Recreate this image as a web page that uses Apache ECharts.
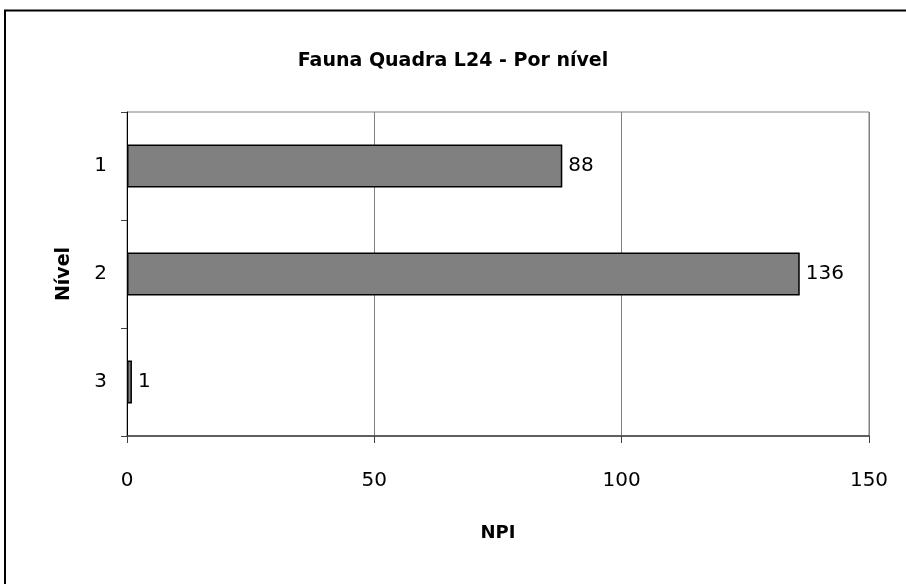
<!DOCTYPE html>
<html>
<head>
<meta charset="utf-8">
<script src="https://cdn.jsdelivr.net/npm/echarts@6/dist/echarts.min.js"></script>
<style>html,body{margin:0;padding:0;background:#fff;}#c{width:906px;height:584px;}</style>
</head>
<body>
<div id="c"></div>
<script>
const titleText = 'Fauna Quadra L24 - Por nível';
const categories = ['1', '2', '3'];
const values = [88, 136, 1];
const xTicks = [0, 50, 100, 150];
const xAxisName = 'NPI';
const yAxisName = 'Nível';

const chart = echarts.init(document.getElementById('c'));
chart.setOption({
  animation: false,
  backgroundColor: '#fff',
  title: {
    text: titleText,
    left: 'center',
    top: 47,
    textStyle: { fontFamily: 'DejaVu Sans', fontWeight: 'bold', fontSize: 19, color: '#000' }
  },
  graphic: [{
    type: 'rect',
    shape: { x: 5, y: 10.5, width: 1000, height: 1000 },
    style: { fill: 'none', stroke: '#000', lineWidth: 2 }
  }],
  grid: {
    left: 127, right: 37, top: 112, bottom: 148,
    show: true, borderColor: '#808080', borderWidth: 1
  },
  xAxis: {
    type: 'value',
    min: xTicks[0], max: xTicks[xTicks.length - 1], interval: 50,
    name: xAxisName,
    nameLocation: 'middle',
    nameGap: 88,
    nameTextStyle: { fontFamily: 'DejaVu Sans', fontWeight: 'bold', fontSize: 18, color: '#000' },
    axisLine: { show: true, lineStyle: { color: '#404040', width: 1.5 } },
    axisTick: { show: true, length: 7, lineStyle: { color: '#404040' } },
    axisLabel: { margin: 35, fontFamily: 'DejaVu Sans', fontSize: 20, color: '#000' },
    splitLine: { show: true, lineStyle: { color: '#808080', width: 1 } }
  },
  yAxis: {
    type: 'category',
    data: categories,
    inverse: true,
    name: yAxisName,
    nameLocation: 'middle',
    nameGap: 53,
    nameRotate: 90,
    nameTextStyle: { fontFamily: 'DejaVu Sans', fontWeight: 'bold', fontSize: 19, color: '#000' },
    axisLine: { show: true, lineStyle: { color: '#000', width: 1 } },
    axisTick: { show: true, length: 6, inside: false, alignWithLabel: false, lineStyle: { color: '#404040' } },
    axisLabel: { margin: 20, fontFamily: 'DejaVu Sans', fontSize: 20, color: '#000' },
    splitLine: { show: false }
  },
  series: [{
    type: 'bar',
    data: values,
    barWidth: '40%',
    itemStyle: { color: '#808080', borderColor: '#000', borderWidth: 1.5 },
    label: {
      show: true, position: 'right', distance: 6,
      fontFamily: 'DejaVu Sans', fontSize: 20, color: '#000'
    }
  }]
});
</script>
</body>
</html>
